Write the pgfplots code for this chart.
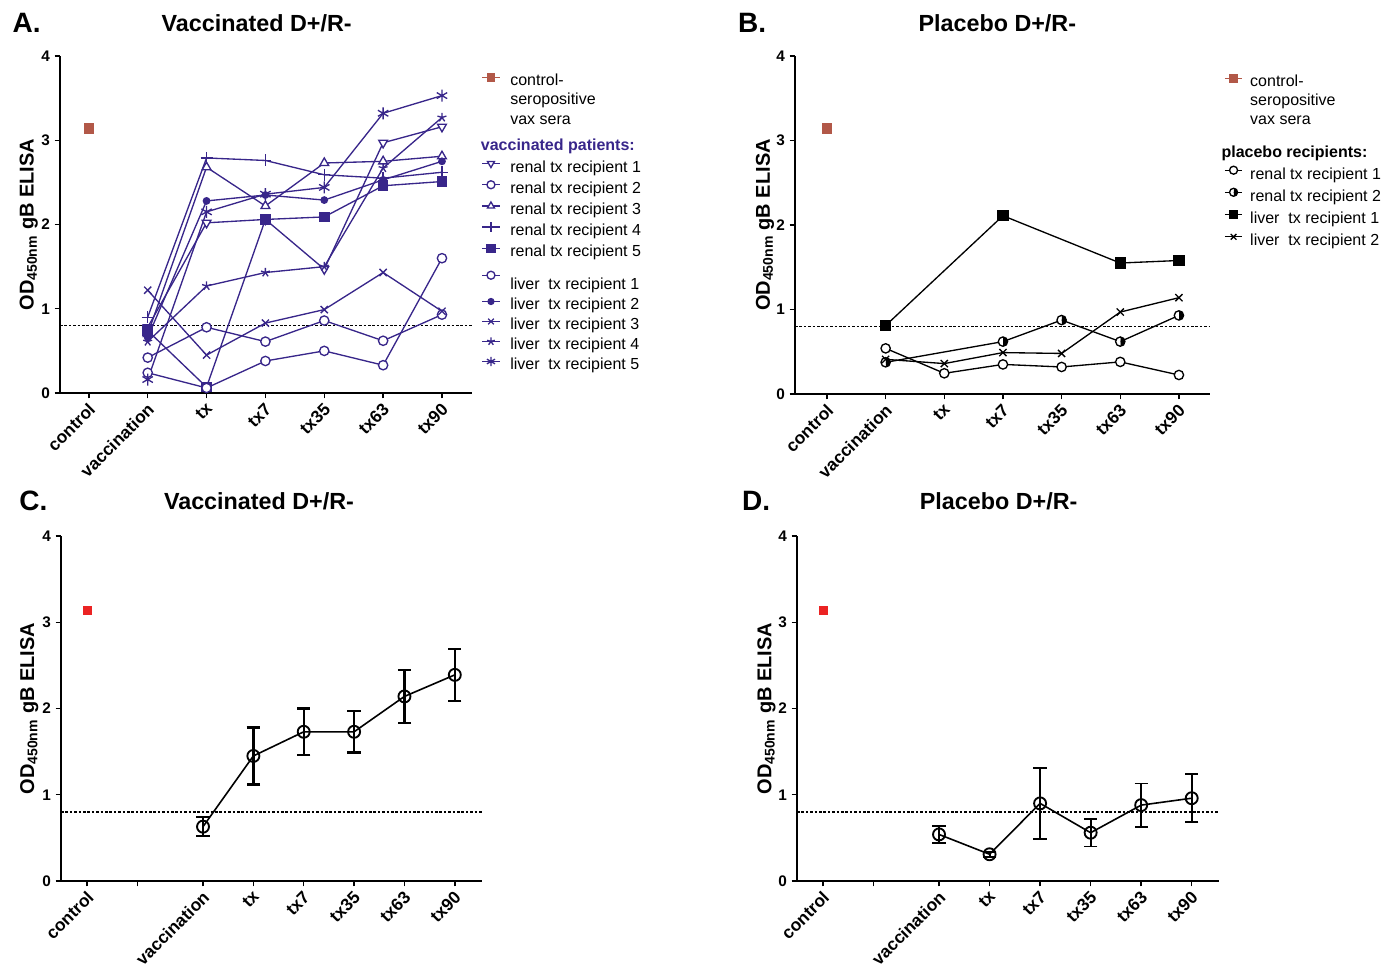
\documentclass[border=0pt]{standalone}
\usepackage{fontspec}
\setmainfont{Liberation Sans}
\usepackage{pgfplots}
\pgfplotsset{compat=1.18}
\usetikzlibrary{plotmarks}
\definecolor{vpurple}{RGB}{56,38,138}
\definecolor{cbrown}{RGB}{178,88,72}
\definecolor{cred}{RGB}{235,35,35}
\newcommand{\rs}[1][18.4pt]{\rule[-4pt]{0pt}{#1}}
\pgfplotsset{
  panel/.style={
    scale only axis,
    axis lines=left,
    axis line style={-, line width=1.1pt},
    tick style={black, line width=1.1pt},
    tick align=outside,
    major tick length=4pt,
    enlargelimits=false,
    ymin=0, ymax=4, ytick={0,1,2,3,4},
    minor tick num=0,
    /pgf/number format/assume math mode=true,
    yticklabel style={font=\fontsize{11.5pt}{13pt}\selectfont\bfseries},
    xticklabel style={font=\fontsize{13pt}{15pt}\selectfont\bfseries, rotate=45, anchor=north east, inner sep=1pt, xshift=-1.5pt},
    ylabel={OD\textsubscript{450nm} gB ELISA},
    ylabel style={font=\fontsize{15pt}{17pt}\selectfont\bfseries, inner sep=0pt, anchor=south},
    clip=false,
  },
  mylegend/.style={
    legend cell align=left,
    legend style={draw=none, fill=none, anchor=north west,
      font=\fontsize{12pt}{14pt}\selectfont, nodes={inner sep=0pt},
      row sep=0pt, column sep=5.5pt},
    legend image code/.code={\draw[mark repeat=2,mark phase=2,##1] plot coordinates {(0pt,0pt) (6.5pt,0pt) (13pt,0pt)};},
  },
}
\begin{document}
\begin{tikzpicture}
\path[use as bounding box] (0pt,0pt) rectangle (1045.5pt,-727.5pt);

% titles and panel letters
\node[anchor=base west, font=\fontsize{21pt}{24pt}\selectfont\bfseries] at (6pt,-24.75pt) {A.};
\node[anchor=base, font=\fontsize{17.5pt}{20pt}\selectfont\bfseries] at (192.5pt,-24pt) {Vaccinated D+/R-};
\node[anchor=base west, font=\fontsize{21pt}{24pt}\selectfont\bfseries] at (550pt,-24.75pt) {B.};
\node[anchor=base, font=\fontsize{17.5pt}{20pt}\selectfont\bfseries] at (748pt,-24pt) {Placebo D+/R-};
\node[anchor=base west, font=\fontsize{21pt}{24pt}\selectfont\bfseries] at (11pt,-382.5pt) {C.};
\node[anchor=base, font=\fontsize{17.5pt}{20pt}\selectfont\bfseries] at (194.25pt,-382pt) {Vaccinated D+/R-};
\node[anchor=base west, font=\fontsize{21pt}{24pt}\selectfont\bfseries] at (553pt,-382.5pt) {D.};
\node[anchor=base, font=\fontsize{17.5pt}{20pt}\selectfont\bfseries] at (749pt,-382pt) {Placebo D+/R-};

% ---------------- Panel A ----------------
\begin{axis}[panel, mylegend,
  at={(45pt,-294.75pt)}, anchor=south west,
  width=309pt, height=252.75pt,
  xmin=-0.49, xmax=6.51,
  xtick={0,1,2,3,4,5,6},
  xticklabels={control,vaccination,tx,tx7,tx35,tx63,tx90},
  ylabel style={at={(axis description cs:-0.053,0.5)}},
  legend style={at={(rel axis cs:1.013,0.975)}, column sep=7.5pt},
  every axis plot/.append style={line width=1pt},
]
\addplot[forget plot, black, line width=0.9pt, dash pattern=on 2pt off 1.3pt] coordinates {(-0.49,0.8) (6.51,0.8)};
\addplot[forget plot, only marks, cbrown, mark=square*, mark size=3.5pt] coordinates {(0,3.14)};
% renal 1
\addplot[forget plot, vpurple, mark=triangle*, mark options={rotate=180, fill=white, mark size=3.8pt}] coordinates {(1,0.78)(2,2.02)(3,2.06)(4,1.47)(5,2.97)(6,3.16)};
% renal 2
\addplot[forget plot, vpurple, mark=*, mark options={fill=white, mark size=3.5pt}] coordinates {(1,0.42)(2,0.78)(3,0.61)(4,0.86)(5,0.62)(6,0.93)};
% renal 3
\addplot[forget plot, vpurple, mark=triangle*, mark options={fill=white, mark size=3.8pt}] coordinates {(1,0.70)(2,2.68)(3,2.22)(4,2.73)(5,2.75)(6,2.81)};
% renal 4
\addplot[forget plot, vpurple, mark=+, mark options={mark size=4.5pt}] coordinates {(1,0.90)(2,2.79)(3,2.76)(4,2.59)(5,2.55)(6,2.62)};
% renal 5
\addplot[forget plot, vpurple, mark=square*, mark options={mark size=3.5pt}] coordinates {(1,0.74)(2,0.07)(3,2.06)(4,2.09)(5,2.46)(6,2.51)};
% liver 1
\addplot[forget plot, vpurple, mark=*, mark options={fill=white, mark size=3.5pt}] coordinates {(1,0.24)(2,0.06)(3,0.38)(4,0.50)(5,0.33)(6,1.60)};
% liver 2
\addplot[forget plot, vpurple, mark=*, mark options={mark size=2.4pt}] coordinates {(1,0.66)(2,2.28)(3,2.35)(4,2.29)(5,2.53)(6,2.75)};
% liver 3
\addplot[forget plot, vpurple, mark=x, mark options={mark size=3.8pt}] coordinates {(1,1.22)(2,0.45)(3,0.83)(4,0.99)(5,1.43)(6,0.97)};
% liver 4
\addplot[forget plot, vpurple, mark=star, mark options={mark size=3.5pt}] coordinates {(1,0.61)(2,1.27)(3,1.43)(4,1.50)(5,2.67)(6,3.27)};
% liver 5
\addplot[forget plot, vpurple, mark=asterisk, mark options={mark size=4.5pt}] coordinates {(1,0.16)(2,2.15)(3,2.36)(4,2.44)(5,3.32)(6,3.53)};

\addlegendimage{cbrown, line width=1pt, mark=square*, mark size=2.8pt}
\addlegendentry{\rs[17.3pt]control-}
\addlegendimage{empty legend}\addlegendentry{\rs[17.3pt]seropositive}
\addlegendimage{empty legend}\addlegendentry{\rs[17.3pt]vax sera}
\addlegendimage{empty legend}\addlegendentry{\rs[22.3pt]\hspace*{-22pt}\textcolor{vpurple}{\bfseries vaccinated patients:}}
\addlegendimage{vpurple, line width=1pt, mark=triangle*, mark options={rotate=180, fill=white, mark size=3pt}}
\addlegendentry{\rs renal tx recipient 1}
\addlegendimage{vpurple, line width=1pt, mark=*, mark options={fill=white, mark size=3pt}}
\addlegendentry{\rs renal tx recipient 2}
\addlegendimage{vpurple, line width=1pt, mark=triangle*, mark options={fill=white, mark size=3pt}}
\addlegendentry{\rs renal tx recipient 3}
\addlegendimage{vpurple, line width=1pt, mark=+, mark options={mark size=3.5pt}}
\addlegendentry{\rs renal tx recipient 4}
\addlegendimage{vpurple, line width=1pt, mark=square*, mark options={mark size=3pt}}
\addlegendentry{\rs renal tx recipient 5}
\addlegendimage{vpurple, line width=1pt, mark=*, mark options={fill=white, mark size=3pt}}
\addlegendentry{\rs[26.9pt]liver\ \ tx recipient 1}
\addlegendimage{vpurple, line width=1pt, mark=*, mark options={mark size=2.2pt}}
\addlegendentry{\rs[17.5pt]liver\ \ tx recipient 2}
\addlegendimage{vpurple, line width=1pt, mark=x, mark options={mark size=3pt}}
\addlegendentry{\rs[17.5pt]liver\ \ tx recipient 3}
\addlegendimage{vpurple, line width=1pt, mark=star, mark options={mark size=3pt}}
\addlegendentry{\rs[17.5pt]liver\ \ tx recipient 4}
\addlegendimage{vpurple, line width=1pt, mark=asterisk, mark options={mark size=3.5pt}}
\addlegendentry{\rs[17.5pt]liver\ \ tx recipient 5}
\end{axis}

% ---------------- Panel B ----------------
\begin{axis}[panel, mylegend,
  at={(596.25pt,-295.5pt)}, anchor=south west,
  width=311.25pt, height=253.5pt,
  xmin=-0.545, xmax=6.53,
  xtick={0,1,2,3,4,5,6},
  xticklabels={control,vaccination,tx,tx7,tx35,tx63,tx90},
  ylabel style={at={(axis description cs:-0.05,0.5)}},
  legend style={at={(rel axis cs:1.024,0.971)}},
  every axis plot/.append style={line width=1pt},
]
\addplot[forget plot, black, line width=0.9pt, dash pattern=on 2pt off 1.3pt] coordinates {(-0.545,0.8) (6.53,0.8)};
\addplot[forget plot, only marks, cbrown, mark=square*, mark size=3.5pt] coordinates {(0,3.14)};
\addplot[forget plot, black, mark=*, mark options={fill=white, mark size=3.5pt}] coordinates {(1,0.54)(2,0.245)(3,0.35)(4,0.32)(5,0.38)(6,0.225)};
\addplot[forget plot, black, mark=halfcircle*, mark options={rotate=-90, fill=black, mark size=3.5pt}] coordinates {(1,0.375)(3,0.62)(4,0.875)(5,0.62)(6,0.93)};
\addplot[forget plot, black, mark=square*, mark options={mark size=3.8pt}] coordinates {(1,0.81)(3,2.11)(5,1.55)(6,1.58)};
\addplot[forget plot, black, mark=x, mark options={mark size=3.8pt}] coordinates {(1,0.41)(2,0.36)(3,0.49)(4,0.48)(5,0.97)(6,1.14)};

\addlegendimage{cbrown, line width=1pt, mark=square*, mark size=2.8pt}
\addlegendentry{\rs[17pt]control-}
\addlegendimage{empty legend}\addlegendentry{\rs[17pt]seropositive}
\addlegendimage{empty legend}\addlegendentry{\rs[17pt]vax sera}
\addlegendimage{empty legend}\addlegendentry{\rs[26.9pt]\hspace*{-21.5pt}{\bfseries placebo recipients:}}
\addlegendimage{black, line width=1pt, mark=*, mark options={fill=white, mark size=3pt}}
\addlegendentry{\rs[18.9pt]renal tx recipient 1}
\addlegendimage{black, line width=1pt, mark=halfcircle*, mark options={rotate=-90, fill=black, mark size=3pt}}
\addlegendentry{\rs[19.2pt]renal tx recipient 2}
\addlegendimage{black, line width=1pt, mark=square*, mark options={mark size=3pt}}
\addlegendentry{\rs[19.2pt]liver\ \ tx recipient 1}
\addlegendimage{black, line width=1pt, mark=x, mark options={mark size=3pt}}
\addlegendentry{\rs[19.2pt]liver\ \ tx recipient 2}
\end{axis}

% ---------------- Panel C ----------------
\begin{axis}[panel,
  at={(45.75pt,-660.75pt)}, anchor=south west,
  width=315.75pt, height=258.75pt,
  xmin=-0.52, xmax=7.84,
  xtick={0,1,2.3,3.3,4.3,5.3,6.3,7.3},
  xticklabels={control,,vaccination,tx,tx7,tx35,tx63,tx90},
  ylabel style={at={(axis description cs:-0.053,0.5)}},
]
\addplot[black, line width=0.9pt, dash pattern=on 2pt off 1.3pt] coordinates {(-0.52,0.8) (7.84,0.8)};
\addplot[only marks, cred, mark=square*, mark size=3pt] coordinates {(0,3.14)};
\addplot[black, line width=1.2pt, mark=o, mark options={mark size=4.5pt, line width=1.4pt},
  error bars/.cd, y dir=both, y explicit,
  error bar style={line width=1.7pt},
  error mark options={line width=1.7pt, mark size=5pt, rotate=90}]
  coordinates {(2.3,0.63) +- (0,0.11) (3.3,1.45) +- (0,0.33) (4.3,1.73) +- (0,0.27) (5.3,1.73) +- (0,0.24) (6.3,2.14) +- (0,0.31) (7.3,2.39) +- (0,0.30)};
\end{axis}

% ---------------- Panel D ----------------
\begin{axis}[panel,
  at={(597.75pt,-660.75pt)}, anchor=south west,
  width=316.5pt, height=258.75pt,
  xmin=-0.51, xmax=7.84,
  xtick={0,1,2.3,3.3,4.3,5.3,6.3,7.3},
  xticklabels={control,,vaccination,tx,tx7,tx35,tx63,tx90},
  ylabel style={at={(axis description cs:-0.05,0.5)}},
]
\addplot[black, line width=0.9pt, dash pattern=on 2pt off 1.3pt] coordinates {(-0.51,0.8) (7.84,0.8)};
\addplot[only marks, cred, mark=square*, mark size=3pt] coordinates {(0,3.14)};
\addplot[black, line width=1.2pt, mark=o, mark options={mark size=4.5pt, line width=1.4pt},
  error bars/.cd, y dir=both, y explicit,
  error bar style={line width=1.4pt},
  error mark options={line width=1.4pt, mark size=5pt, rotate=90}]
  coordinates {(2.3,0.54) +- (0,0.10) (3.3,0.31) +- (0,0.03) (4.3,0.90) +- (0,0.41) (5.3,0.56) +- (0,0.16) (6.3,0.88) +- (0,0.25) (7.3,0.96) +- (0,0.28)};
\end{axis}
\end{tikzpicture}
\end{document}
